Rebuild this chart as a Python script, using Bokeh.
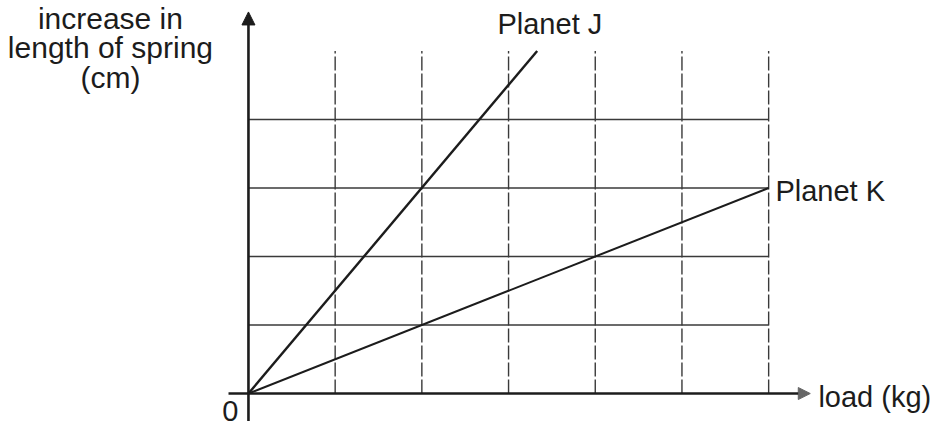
from bokeh.plotting import figure
from bokeh.models import Range1d, Arrow, NormalHead
from bokeh.core.properties import value
from bokeh.embed import file_html
from bokeh.resources import INLINE

# ---- data (arbitrary grid units) ----
grid_load = [1, 2, 3, 4, 5, 6]          # vertical grid lines (load)
grid_ext = [1, 2, 3, 4]                 # horizontal grid lines (extension)
grid_top = 5.0                           # vertical grid lines reach this height

planet_j_load = [0, 3.33]
planet_j_ext = [0, 5.0]
planet_k_load = [0, 6.0]
planet_k_ext = [0, 3.0]

y_title = ["increase in", "length of spring", "(cm)"]
x_title = "load (kg)"
labels = ["Planet J", "Planet K"]

FONT = value("Liberation Sans")
INK = "#1c1c1c"
GRID = "#3a3a3a"
DY = 0.175   # baseline correction for the svg text renderer

p = figure(width=936, height=427, output_backend="svg", toolbar_location=None,
           x_range=Range1d(-2.860, 7.936), y_range=Range1d(-0.496, 5.737),
           min_border=0, x_axis_type=None, y_axis_type=None)
p.grid.visible = False
p.outline_line_color = None
p.background_fill_color = "white"
p.border_fill_color = "white"

# grid
p.segment(x0=grid_load, y0=[0] * len(grid_load), x1=grid_load, y1=[grid_top] * len(grid_load),
          line_color=GRID, line_width=1.4, line_dash="14 3")
p.segment(x0=[0] * len(grid_ext), y0=grid_ext, x1=[grid_load[-1]] * len(grid_ext), y1=grid_ext,
          line_color=GRID, line_width=1.4)

# data lines
p.line(planet_j_load, planet_j_ext, line_color=INK, line_width=2.4)
p.line(planet_k_load, planet_k_ext, line_color=INK, line_width=2.0)

# axes with arrows
p.add_layout(Arrow(x_start=0, y_start=-0.4, x_end=0, y_end=5.57, line_color=INK, line_width=2.6,
                   end=NormalHead(size=13, fill_color=INK, line_color=INK)))
p.add_layout(Arrow(x_start=-0.23, y_start=0, x_end=6.48, y_end=0, line_color=INK, line_width=2.6,
                   end=NormalHead(size=12, fill_color="#666666", line_color="#666666")))

# texts
p.text(x=[-1.592] * 3, y=[5.30 + DY, 4.876 + DY, 4.438 + DY], text=y_title, text_font=FONT,
       text_font_size="30px", text_color=INK, text_align="center", text_baseline="alphabetic")
p.text(x=[2.872, 6.078], y=[5.226 + DY, 2.788 + DY], text=labels, text_font=FONT,
       text_font_size="29px", text_color=INK, text_align="left", text_baseline="alphabetic")
p.text(x=[6.574], y=[-0.219 + DY], text=[x_title], text_font=FONT,
       text_font_size="29px", text_color=INK, text_align="left", text_baseline="alphabetic")
p.text(x=[-0.208], y=[-0.423 + DY], text=["0"], text_font=FONT,
       text_font_size="29px", text_color=INK, text_align="center", text_baseline="alphabetic")

open("out.html", "w").write(file_html(p, INLINE))
